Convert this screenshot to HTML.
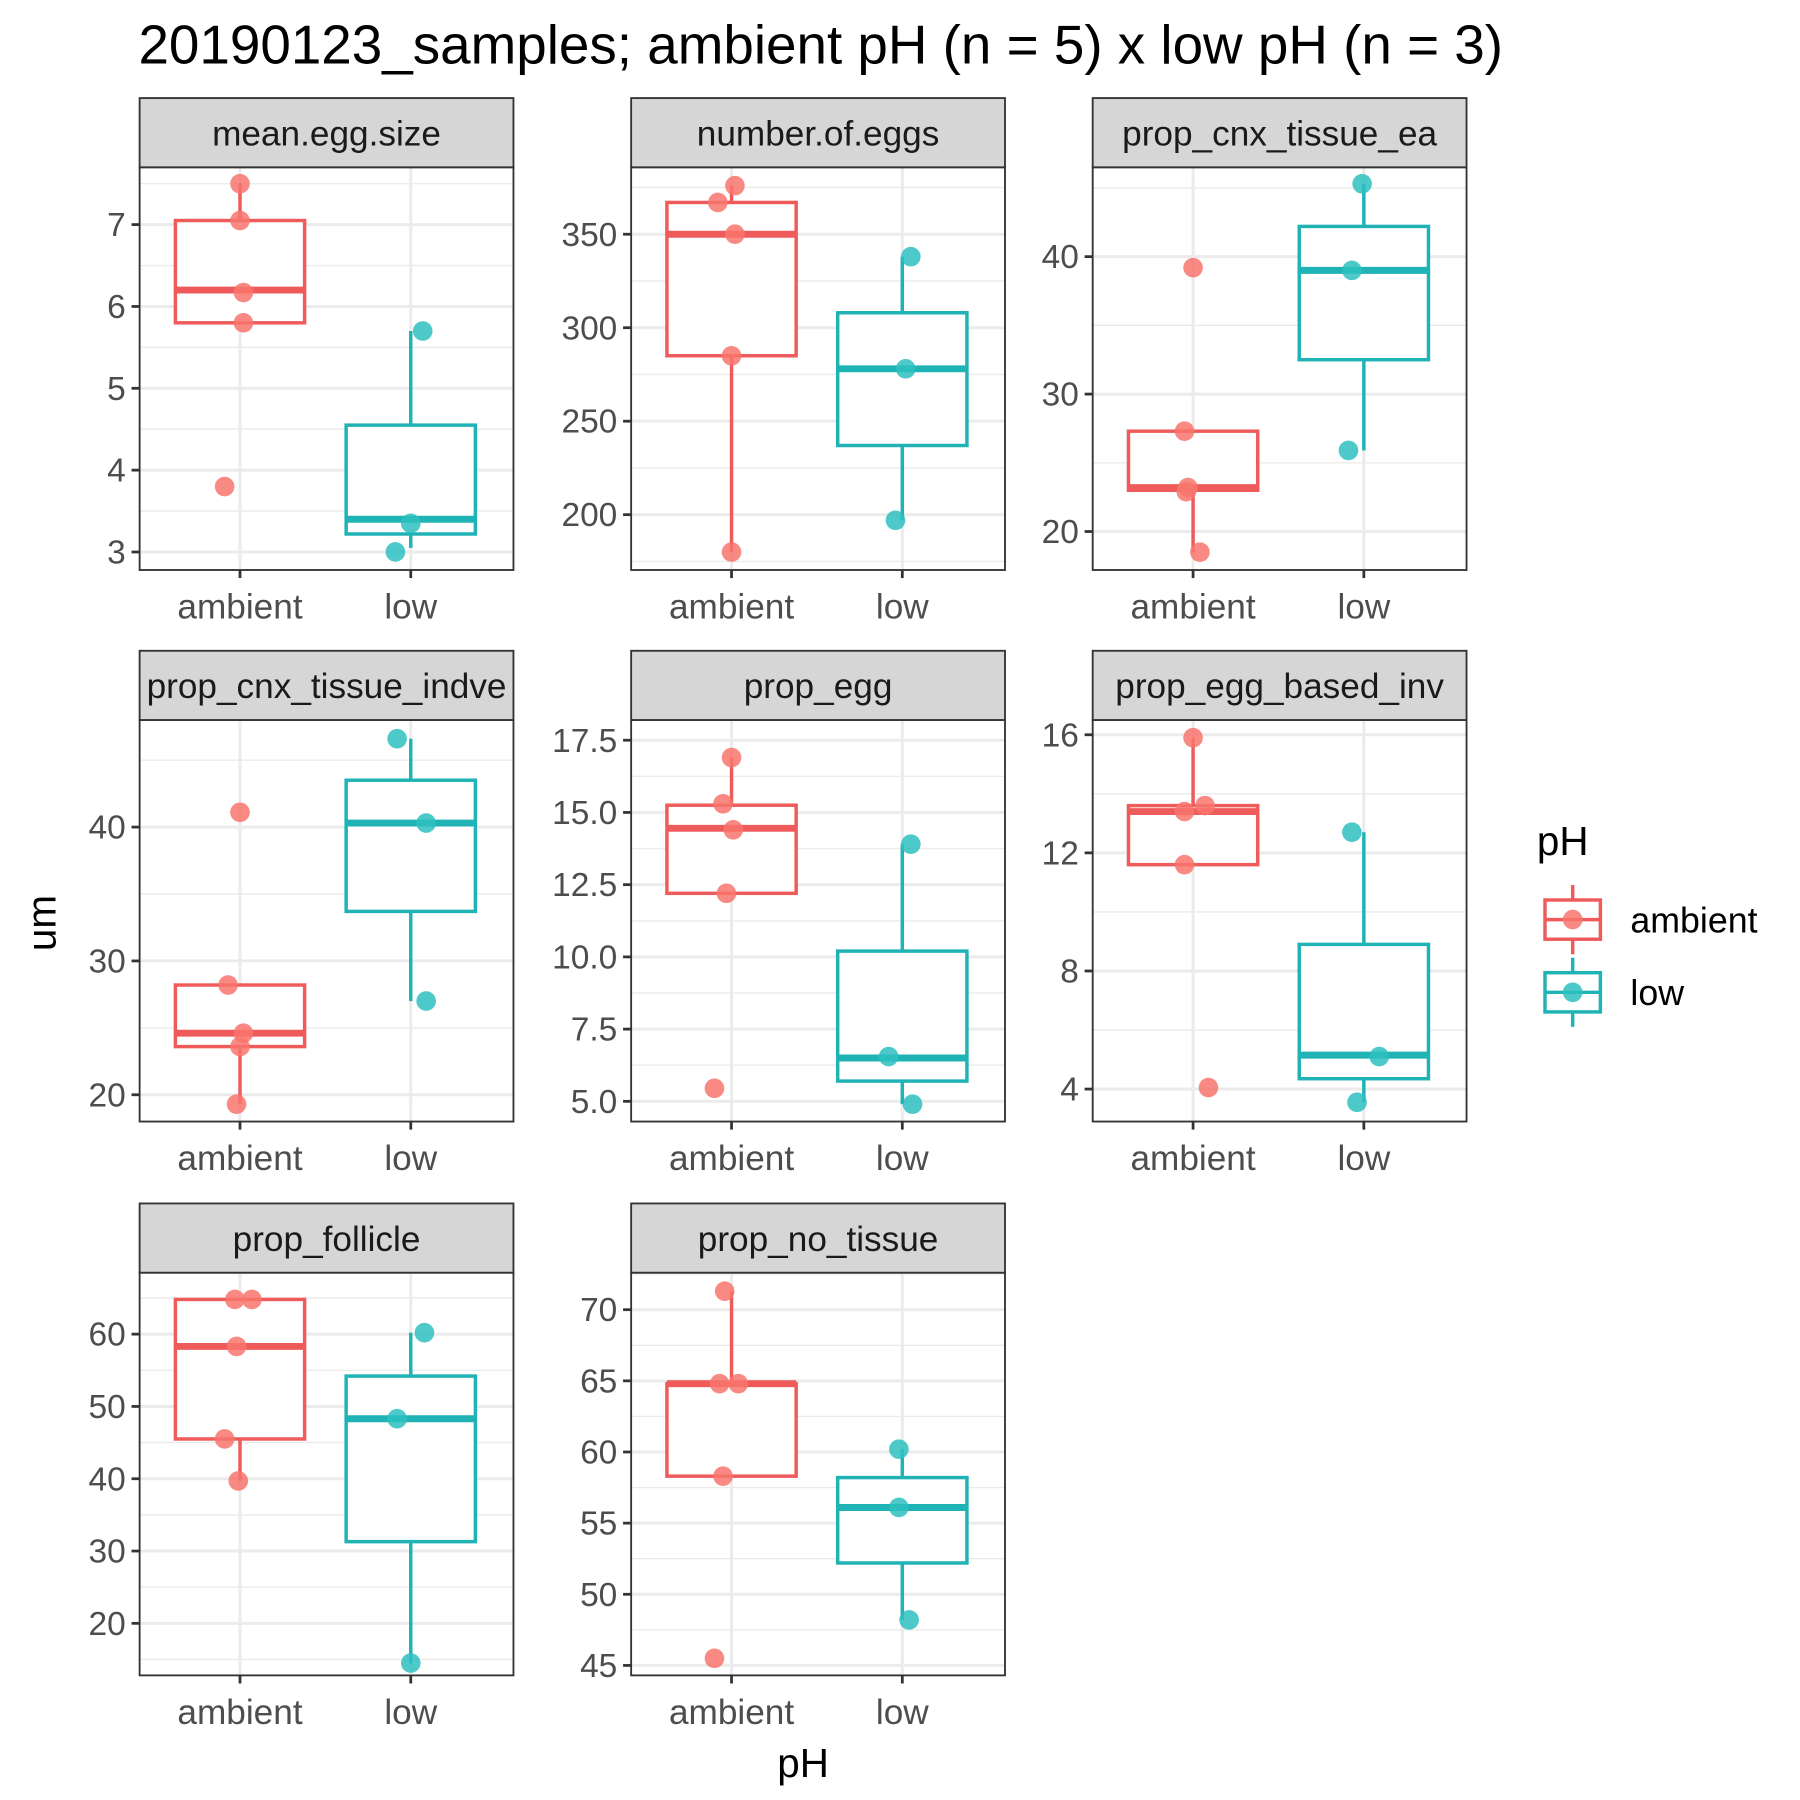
<!DOCTYPE html>
<html><head><meta charset="utf-8"><style>
html,body{margin:0;padding:0;background:#fff}
svg{display:block}
text{font-family:"Liberation Sans",Arial,sans-serif}
</style></head><body>
<svg id="chart" width="1800" height="1800" viewBox="0 0 1560 1560" xmlns="http://www.w3.org/2000/svg">
<rect width="1560" height="1560" fill="#fff"/>
<text x="120" y="55" font-size="47.5" fill="#000">20190123_samples; ambient pH (n = 5) x low pH (n = 3)</text>
<text transform="translate(48,800) rotate(-90)" text-anchor="middle" font-size="35" fill="#000">um</text>
<text x="696" y="1540" text-anchor="middle" font-size="35" fill="#000">pH</text>
<g id="legend">
<text x="1332" y="741" font-size="35" fill="#000">pH</text>
</g>
<g id="panels"></g>
</svg>
<script>
const NS="http://www.w3.org/2000/svg";
const categories=["ambient","low"];
const panelNames=["mean.egg.size","number.of.eggs","prop_cnx_tissue_ea","prop_cnx_tissue_indve","prop_egg","prop_egg_based_inv","prop_follicle","prop_no_tissue"];
const yTicks=[[3,4,5,6,7],[200,250,300,350],[20,30,40],[20,30,40],[5.0,7.5,10.0,12.5,15.0,17.5],[4,8,12,16],[20,30,40,50,60],[45,50,55,60,65,70]];
const yTickLabels=[["3","4","5","6","7"],["200","250","300","350"],["20","30","40"],["20","30","40"],["5.0","7.5","10.0","12.5","15.0","17.5"],["4","8","12","16"],["20","30","40","50","60"],["45","50","55","60","65","70"]];
const yDomains=[[2.78,7.7],[170.4,385.8],[17.2,46.5],[18.0,48.0],[4.3,18.2],[2.9,16.5],[12.8,68.5],[44.3,72.6]];
// box stats per panel: [lowerWhisker,q1,median,q3,upperWhisker] for ambient, low
const ambientBoxes=[[5.8,5.8,6.2,7.05,7.5],[180,285,350,367,376],[18.5,23.0,23.2,27.3,27.3],[19.3,23.6,24.6,28.2,28.2],[12.2,12.2,14.45,15.25,16.9],[11.6,11.6,13.4,13.6,15.9],[39.7,45.5,58.3,64.8,64.8],[58.3,58.3,64.8,64.8,71.3]];
const lowBoxes=[[3.05,3.22,3.4,4.55,5.7],[197,237,278,308,338],[25.9,32.5,39.0,42.2,45.3],[27.0,33.7,40.3,43.5,46.6],[4.9,5.7,6.5,10.2,13.9],[3.55,4.35,5.15,8.9,12.7],[14.5,31.3,48.3,54.2,60.2],[48.2,52.2,56.1,58.2,60.2]];
const ambientPoints=[[7.5,7.05,6.17,5.8,3.8],[376,367,350,285,180],[39.2,27.3,23.2,22.9,18.5],[41.1,28.2,24.6,23.6,19.3],[16.9,15.3,14.4,12.2,5.45],[15.9,13.6,13.4,11.6,4.05],[64.8,64.8,58.3,45.5,39.7],[71.3,64.8,64.8,58.3,45.5]];
const lowPoints=[[5.7,3.35,3.0],[338,278,197],[45.3,39.0,25.9],[46.6,40.3,27.0],[13.9,6.55,4.9],[12.7,5.1,3.55],[60.2,48.3,14.5],[60.2,56.1,48.2]];
const ambientJitter=[[0,0,0.02,0.02,-0.09],[0.02,-0.08,0.02,0,0],[0.0,-0.05,-0.03,-0.04,0.04],[0.0,-0.07,0.02,0,-0.02],[0,-0.05,0.01,-0.03,-0.1],[0,0.07,-0.05,-0.05,0.09],[-0.03,0.07,-0.02,-0.09,-0.01],[-0.04,-0.07,0.04,-0.05,-0.1]];
const lowJitter=[[0.07,0,-0.09],[0.05,0.02,-0.04],[-0.01,-0.07,-0.09],[-0.08,0.09,0.09],[0.05,-0.08,0.06],[-0.07,0.09,-0.04],[0.08,-0.08,0.0],[-0.02,-0.02,0.04]];
const colors=["#F8766D","#2ebfc0"];
const boxColors=["#ef5b5b","#1fb3b5"];
const colX=[121,547,947], rowY=[85,564,1043], PW=324, STRIP=60, PH=[349,348,349];
function mk(tag,attrs,parent){const e=document.createElementNS(NS,tag);for(const k in attrs)e.setAttribute(k,attrs[k]);parent.appendChild(e);return e;}
const root=document.getElementById('panels');
panelNames.forEach((name,pi)=>{
  const c=pi%3,r=Math.floor(pi/3);
  const x0=colX[c], sTop=rowY[r], top=sTop+STRIP, bot=top+PH[r];
  const d=yDomains[pi];
  const ys=v=>bot-(v-d[0])/(d[1]-d[0])*(bot-top);
  const xs=i=>x0+87+i*148;
  const g=mk('g',{},root);
  
  
  mk('rect',{x:x0,y:top,width:PW,height:bot-top,fill:'#fff'},g);
  const t=yTicks[pi];
  const step=t[1]-t[0];
  for(let v=t[0]-step/2;v<=d[1];v+=step){ if(v>=d[0]){const y=ys(v);mk('line',{x1:x0,x2:x0+PW,y1:y,y2:y,stroke:'#ebebeb','stroke-width':1.2},g);} }
  t.forEach((v,ti)=>{
    const y=ys(v);
    const gl=mk('line',{x1:x0,x2:x0+PW,y1:y,y2:y,stroke:'#ebebeb','stroke-width':2.6},g);
    
    
    mk('line',{x1:x0-7,x2:x0,y1:y,y2:y,stroke:'#333','stroke-width':2.4},g);
    const tl=mk('text',{x:x0-12,y:y+10,'text-anchor':'end','font-size':29,fill:'#4d4d4d'},g);
    tl.textContent=yTickLabels[pi][ti];
    
    
  });
  categories.forEach((cat,ci)=>{
    const x=xs(ci);
    mk('line',{x1:x,x2:x,y1:top,y2:bot,stroke:'#ebebeb','stroke-width':2.6},g);
    mk('line',{x1:x,x2:x,y1:bot,y2:bot+7,stroke:'#333','stroke-width':2.4},g);
    const tl=mk('text',{x:x,y:bot+42,'text-anchor':'middle','font-size':30.5,fill:'#4d4d4d'},g);
    tl.textContent=cat;
    
    
  });
  [ambientBoxes[pi],lowBoxes[pi]].forEach((b,ci)=>{
    const x=xs(ci),col=boxColors[ci],hw=56;
    const bg=mk('g',{},g);
    
    
    mk('line',{x1:x,x2:x,y1:ys(b[0]),y2:ys(b[1]),stroke:col,'stroke-width':3},bg);
    mk('line',{x1:x,x2:x,y1:ys(b[3]),y2:ys(b[4]),stroke:col,'stroke-width':3},bg);
    mk('rect',{x:x-hw,y:ys(b[3]),width:2*hw,height:ys(b[1])-ys(b[3]),fill:'#fff',stroke:col,'stroke-width':3},bg);
    mk('line',{x1:x-hw,x2:x+hw,y1:ys(b[2]),y2:ys(b[2]),stroke:col,'stroke-width':6},bg);
  });
  [[ambientPoints[pi],ambientJitter[pi]],[lowPoints[pi],lowJitter[pi]]].forEach(([pts,jit],ci)=>{
    pts.forEach((v,k)=>{
      const p=mk('circle',{cx:xs(ci)+jit[k]*148,cy:ys(v),r:8.5,fill:colors[ci],'fill-opacity':0.85},g);
      
      
    });
  });
  mk('rect',{x:x0,y:top,width:PW,height:bot-top,fill:'none',stroke:'#333','stroke-width':1.6},g);
  const st=mk('rect',{x:x0,y:sTop,width:PW,height:STRIP,fill:'#d6d6d6',stroke:'#333','stroke-width':1.6},g);
  
  
  const stt=mk('text',{x:x0+PW/2,y:sTop+41,'text-anchor':'middle','font-size':30.5,fill:'#1a1a1a'},g);
  stt.textContent=name;
  
  
});
const lg=document.getElementById('legend');
categories.forEach((cat,ci)=>{
  const cy=797+ci*63,col=boxColors[ci];
  const k=mk('g',{},lg);
  
  
  mk('line',{x1:1363,x2:1363,y1:cy-30,y2:cy+30,stroke:col,'stroke-width':3},k);
  mk('rect',{x:1339,y:cy-17,width:48,height:34,fill:'#fff',stroke:col,'stroke-width':3},k);
  mk('line',{x1:1339,x2:1387,y1:cy,y2:cy,stroke:col,'stroke-width':3},k);
  mk('circle',{cx:1363,cy:cy,r:8.5,fill:colors[ci],'fill-opacity':0.85},k);
  const t=mk('text',{x:1413,y:cy+11,'font-size':31,fill:'#000'},k);
  t.textContent=cat;
});
</script>
</body></html>
